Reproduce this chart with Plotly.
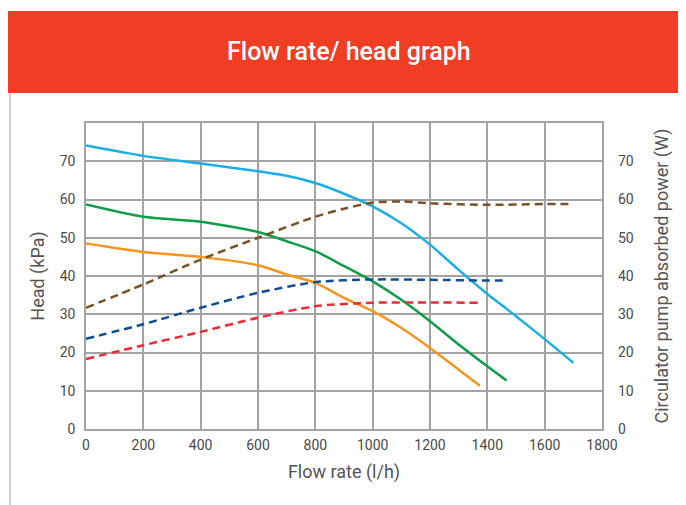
import plotly.graph_objects as go

# Head curves (kPa) vs flow rate (l/h)
flow_high = [0, 200, 400, 600, 700, 800, 900, 1000, 1100, 1200, 1300, 1400, 1500, 1600, 1700]
head_high = [74.1, 71.4, 69.4, 67.4, 66.2, 64.3, 61.5, 58.2, 53.8, 48.2, 41.6, 35.3, 29.5, 23.5, 17.3]

flow_mid = [0, 200, 400, 600, 700, 800, 900, 1000, 1100, 1200, 1300, 1400, 1467]
head_mid = [58.7, 55.5, 54.2, 51.5, 49.1, 46.5, 42.6, 38.6, 33.8, 28.2, 22.1, 16.4, 12.7]

flow_low = [0, 200, 400, 600, 700, 800, 900, 1000, 1100, 1200, 1300, 1374]
head_low = [48.5, 46.3, 45.0, 42.8, 40.4, 38.2, 34.3, 30.8, 26.4, 21.2, 15.5, 11.3]

# Absorbed power curves (W) vs flow rate (l/h)
pflow_high = [0, 200, 400, 600, 800, 900, 1000, 1100, 1200, 1400, 1600, 1700]
power_high = [31.7, 37.8, 44.3, 50.0, 55.5, 57.6, 59.2, 59.5, 59.0, 58.6, 58.8, 58.8]

pflow_mid = [0, 200, 400, 600, 800, 1000, 1200, 1400, 1470]
power_mid = [23.6, 27.4, 31.7, 35.6, 38.4, 39.1, 39.0, 38.8, 38.8]

pflow_low = [0, 200, 400, 600, 800, 1000, 1200, 1374]
power_low = [18.3, 21.9, 25.4, 29.1, 32.1, 33.0, 33.1, 33.0]

x_ticks = [0, 200, 400, 600, 800, 1000, 1200, 1400, 1600, 1800]
y_ticks = [0, 10, 20, 30, 40, 50, 60, 70]

fig = go.Figure()

def head(x, y, color):
    fig.add_trace(go.Scatter(x=x, y=y, mode="lines", yaxis="y",
                             line=dict(color=color, width=2.5, shape="spline", smoothing=0.7),
                             showlegend=False, hoverinfo="skip"))

def power(x, y, color):
    fig.add_trace(go.Scatter(x=x, y=y, mode="lines", yaxis="y2",
                             line=dict(color=color, width=2.5, shape="spline", smoothing=0.7,
                                       dash="8px,5px"),
                             showlegend=False, hoverinfo="skip"))

head(flow_high, head_high, "#1aaee6")
head(flow_mid, head_mid, "#0f9d48")
head(flow_low, head_low, "#f7941d")
power(pflow_high, power_high, "#7a5226")
power(pflow_mid, power_mid, "#0d4f94")
power(pflow_low, power_low, "#ee2a36")

# page is rendered with an 8px body margin; positions below are figure-relative
OFF = 8
W, H = 686 - OFF, 505 - OFF
L, T = 86 - OFF, 123 - OFF
R = W - (602 - OFF)
B = H - (429 - OFF)
pw, ph = W - L - R, H - T - B

def px(xp):
    return (xp - OFF - L) / pw

def py(yp):
    return (H - B - (yp - OFF)) / ph

tick_font = dict(family="Roboto, Arial, sans-serif", size=14, color="#4a4a4a")
title_font = dict(family="Roboto, Arial, sans-serif", size=18, color="#555555")
grid = "#a3a3a3"

fig.update_layout(
    width=W, height=H,
    margin=dict(l=L, r=R, t=T, b=B, autoexpand=False),
    paper_bgcolor="white", plot_bgcolor="white",
    xaxis=dict(range=[0, 1800], tickvals=x_ticks, showgrid=True, gridcolor=grid, gridwidth=1.5,
               showline=True, linecolor=grid, linewidth=1.5, mirror=True, zeroline=False,
               ticks="", tickfont=tick_font, ticklabelstandoff=2,
               title=dict(text="Flow rate (l/h)", font=title_font, standoff=14)),
    yaxis=dict(range=[0, 80], tickvals=y_ticks, showgrid=True, gridcolor=grid, gridwidth=1.5,
               showline=True, linecolor=grid, linewidth=1.5, mirror=True, zeroline=False,
               ticks="", tickfont=tick_font, ticklabelstandoff=6,
               title=dict(text="Head (kPa)", font=title_font, standoff=10)),
    yaxis2=dict(range=[0, 80], tickvals=y_ticks, overlaying="y", side="right", showgrid=False,
                zeroline=False, ticks="", tickfont=tick_font, ticklabelstandoff=15,
                title=dict(text="Circulator pump absorbed power (W)", font=title_font, standoff=22)),
    shapes=[
        dict(type="rect", xref="paper", yref="paper", x0=px(7), x1=px(700), y0=py(93), y1=py(11),
             fillcolor="#ef3e23", line=dict(width=0), layer="above"),
        dict(type="line", xref="paper", yref="paper", x0=px(10), x1=px(10), y0=py(93), y1=py(510),
             line=dict(color="#cfcfcf", width=2)),
    ],
    annotations=[
        dict(text="Flow rate/ head graph", xref="paper", yref="paper", x=px(349), y=py(52),
             xanchor="center", yanchor="middle", showarrow=False,
             font=dict(family="Roboto, Arial, sans-serif", size=25, color="white", weight=500)),
    ],
)

fig.write_html("out.html")
